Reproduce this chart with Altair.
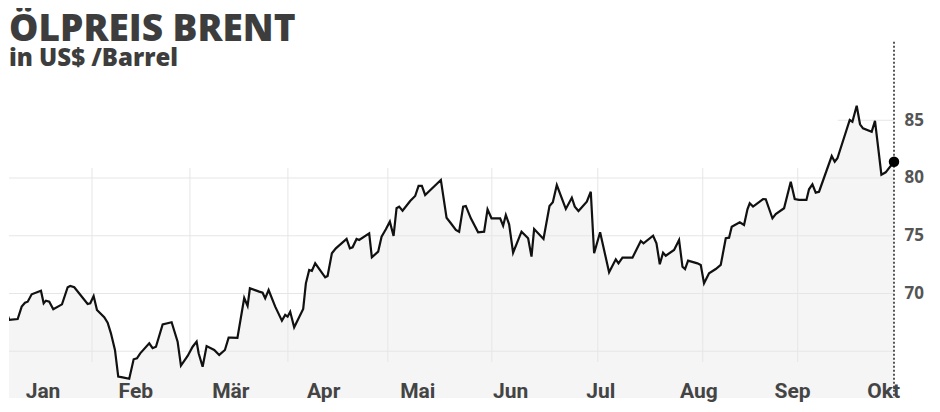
import altair as alt
import pandas as pd

# Brent price: x = trading-day index, price in US$/barrel
day = [0.0, 0.75, 1.37, 1.9, 3.81, 4.73, 5.48, 6.1, 7.01, 9.13, 9.75, 10.27, 11.03, 11.94, 13.93,
       15.23, 15.82, 16.74, 19.79, 20.39, 21.16, 21.92, 23.58, 24.36, 25.11, 26.03, 26.78, 27.79,
       29.29, 30.3, 31.05, 31.8, 33.86, 34.63, 35.39, 36.92, 38.97, 40.34, 41.1, 42.63, 43.77,
       44.68, 45.14, 46.05, 46.96, 48.7, 49.84, 51.14, 51.99, 52.51, 54.0, 55.55, 56.32, 56.85,
       58.97, 59.75, 60.34, 61.12, 62.63, 64.16, 64.91, 65.46, 66.05, 66.96, 69.02, 69.63, 70.39,
       71.0, 71.76, 74.04, 74.59, 75.57, 76.48, 78.93, 79.68, 80.3, 81.21, 81.8, 84.09, 84.7,
       86.14, 86.92, 87.9, 88.81, 89.66, 90.34, 90.94, 91.71, 93.45, 94.59, 95.37, 96.12, 96.87,
       100.46, 101.76, 102.74, 103.88, 104.63, 105.55, 106.16, 107.31, 108.97, 110.34, 111.12,
       112.03, 114.0, 114.68, 115.3, 116.05, 116.96, 118.88, 120.39, 121.16, 121.76, 123.9,
       125.27, 126.03, 126.94, 129.0, 130.37, 131.05, 131.89, 133.79, 134.7, 135.46, 136.83,
       138.88, 140.41, 141.03, 141.94, 144.22, 146.12, 146.74, 148.93, 149.7, 150.46, 151.21,
       151.83, 153.72, 154.86, 155.64, 156.23, 156.92, 159.06, 159.82, 160.57, 161.71, 163.24,
       164.38, 165.53, 166.28, 166.89, 168.72, 169.7, 170.48, 171.0, 171.76, 174.04, 174.66,
       176.19, 176.94, 178.84, 180.37, 181.28, 182.26, 183.95, 184.54, 185.32, 186.07, 186.83,
       189.73, 190.41, 191.03, 193.84, 194.45, 195.43, 196.19, 196.87, 198.86, 199.61, 201.07,
       202.05, 203.95]
price = [66.69, 67.99, 68.29, 67.71, 67.79, 68.86, 69.20, 69.29, 69.93, 70.24, 69.15, 69.38, 69.29,
         68.63, 69.06, 70.54, 70.65, 70.54, 69.09, 69.15, 69.78, 68.57, 67.94, 67.47, 66.55, 65.11,
         62.80, 62.74, 62.62, 64.30, 64.39, 64.82, 65.69, 65.26, 65.39, 67.33, 67.51, 65.83, 63.75,
         64.59, 65.39, 65.83, 64.82, 63.66, 65.45, 65.11, 64.68, 65.11, 66.17, 66.17, 66.15, 69.61,
         68.92, 70.45, 70.16, 70.07, 69.58, 70.30, 68.86, 67.65, 68.14, 67.99, 68.42, 67.07, 68.66,
         70.88, 72.03, 71.95, 72.61, 71.40, 71.52, 73.48, 73.91, 74.72, 73.91, 74.00, 74.72, 74.63,
         75.21, 73.13, 73.62, 74.92, 75.56, 76.22, 74.98, 77.38, 77.52, 77.17, 78.01, 78.44, 79.31,
         79.31, 78.53, 79.83, 76.56, 76.08, 75.50, 75.35, 77.52, 77.58, 76.51, 75.30, 75.35, 77.29,
         76.51, 76.51, 75.87, 76.80, 75.99, 73.53, 75.35, 74.78, 73.19, 75.58, 74.72, 77.58, 77.90,
         79.39, 77.32, 78.29, 77.52, 77.14, 77.95, 78.81, 73.48, 75.30, 71.84, 72.96, 72.61, 73.10,
         73.10, 74.55, 74.35, 75.00, 74.35, 72.53, 73.53, 73.27, 73.77, 74.63, 72.32, 72.12, 72.84,
         72.61, 72.47, 70.88, 71.75, 72.12, 72.47, 74.78, 74.83, 75.78, 76.16, 75.93, 77.29, 77.81,
         77.52, 78.18, 78.16, 76.51, 76.88, 77.38, 79.68, 78.18, 78.10, 78.10, 79.02, 79.45, 78.73,
         78.81, 81.90, 81.41, 81.71, 85.02, 84.87, 86.26, 84.65, 84.30, 84.01, 84.94, 80.29, 80.49,
         81.41]

month_names = ["Jan", "Feb", "Mär", "Apr", "Mai", "Jun", "Jul", "Aug", "Sep", "Okt"]
month_pos = [9.6, 30.8, 52.5, 73.7, 95.2, 116.4, 137.0, 159.4, 180.8, 201.6]

vgrid_pos = [20.78, 43.15, 65.53, 88.36, 112.1, 136.3, 160.27, 181.96]
vgrid_top = 80.87
vgrid_bottom = 64.07

hgrid_vals = [65, 70, 75, 80, 85]
hgrid_start = [1.83, 1.83, 1.83, 1.83, 191.1]

y_labels = [70, 75, 80, 85]
title_text = "ÖLPREIS BRENT"
subtitle_text = "in US$ /Barrel"

XMIN, XMAX = 1.83, 203.95
YMIN, YMAX = 60.95, 94.72
W, H = 885, 390

xs = alt.Scale(domain=[XMIN, XMAX], nice=False, zero=False)
ys = alt.Scale(domain=[YMIN, YMAX], nice=False, zero=False)
yaxis = alt.Axis(orient="right", values=y_labels, grid=False, ticks=False, domain=False,
                 labelFont="Open Sans", labelFontWeight="bold", labelFontSize=17,
                 labelColor="#555555", labelPadding=10, title=None)

df = pd.DataFrame({"day": day, "price": price})
last = df.tail(1)

hgrid_df = pd.DataFrame({"v": hgrid_vals, "x1": hgrid_start, "x2": [XMAX] * len(hgrid_vals)})
vgrid_df = pd.DataFrame({"d": vgrid_pos, "y1": [vgrid_top] * len(vgrid_pos),
                         "y2": [vgrid_bottom] * len(vgrid_pos)})
month_df = pd.DataFrame({"name": month_names, "pos": month_pos})

area = alt.Chart(df).mark_area(color="#f5f5f5", clip=True).encode(
    x=alt.X("day:Q", scale=xs, axis=None),
    y=alt.Y("price:Q", scale=ys, axis=yaxis),
    y2=alt.datum(YMIN),
)

hgrid = alt.Chart(hgrid_df).mark_rule(color="#e6e6e6", strokeWidth=1).encode(
    x=alt.X("x1:Q", scale=xs, axis=None), x2="x2:Q",
    y=alt.Y("v:Q", scale=ys, axis=yaxis),
)

vgrid = alt.Chart(vgrid_df).mark_rule(color="#e6e6e6", strokeWidth=1).encode(
    x=alt.X("d:Q", scale=xs, axis=None),
    y=alt.Y("y1:Q", scale=ys, axis=yaxis), y2="y2:Q",
)

line = alt.Chart(df).mark_line(color="#111111", strokeWidth=2.2, clip=True,
                               strokeJoin="miter").encode(
    x=alt.X("day:Q", scale=xs, axis=None),
    y=alt.Y("price:Q", scale=ys, axis=yaxis),
)

dotted = alt.Chart(last).mark_rule(color="#222222", strokeWidth=1.5, strokeDash=[2, 2]).encode(
    x=alt.X("day:Q", scale=xs, axis=None),
    y=alt.datum(91.8),
    y2=alt.datum(YMIN),
)

dot = alt.Chart(last).mark_circle(size=110, color="#000000", opacity=1).encode(
    x=alt.X("day:Q", scale=xs, axis=None),
    y=alt.Y("price:Q", scale=ys, axis=yaxis),
)

months = alt.Chart(month_df).mark_text(
    font="Roboto", fontWeight="bold", fontSize=21, color="#444444",
    baseline="alphabetic", align="center").encode(
    x=alt.X("pos:Q", scale=xs, axis=None),
    y=alt.value(H),
    text="name:N",
)

title = alt.Chart(pd.DataFrame({"t": [title_text]})).mark_text(
    font="Open Sans", fontWeight=800, fontSize=37, color="#3d3d3d",
    align="left", baseline="alphabetic").encode(
    x=alt.value(0), y=alt.value(33), text="t:N")

subtitle = alt.Chart(pd.DataFrame({"t": [subtitle_text]})).mark_text(
    font="Open Sans", fontWeight=800, fontSize=24, color="#3d3d3d",
    align="left", baseline="alphabetic").encode(
    x=alt.value(0), y=alt.value(58), text="t:N")

chart = alt.layer(area, hgrid, vgrid, line, dotted, dot, months, title, subtitle).properties(
    width=W, height=H, padding=0, background="#ffffff"
).configure_view(stroke=None)

chart.save("out.html", embed_options={"renderer": "svg", "actions": False})
